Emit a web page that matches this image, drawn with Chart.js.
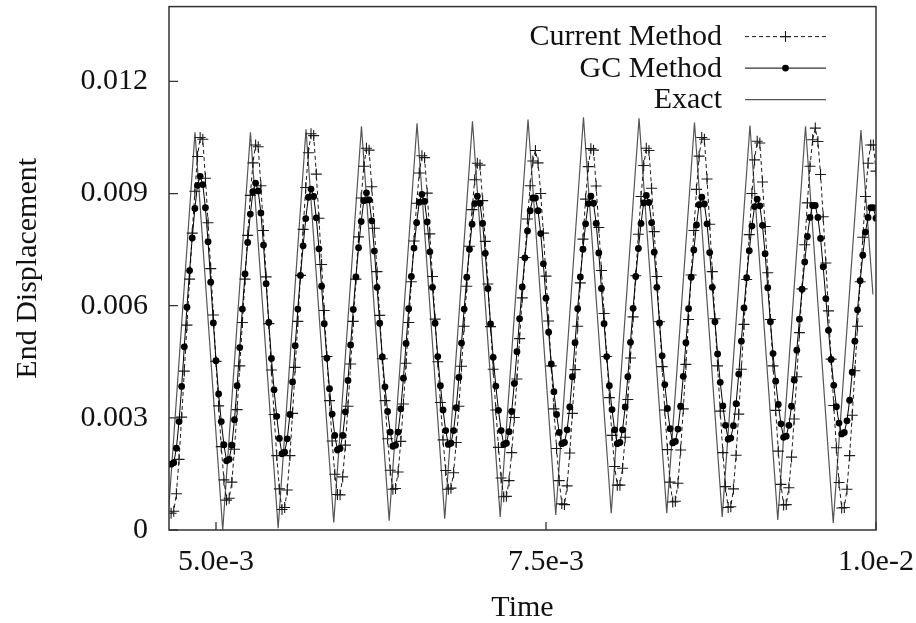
<!DOCTYPE html>
<html>
<head>
<meta charset="utf-8">
<script src="https://cdn.jsdelivr.net/npm/chart.js@4.4.1/dist/chart.umd.min.js"></script>
<style>
  html, body { margin: 0; padding: 0; background: #ffffff; }
  #wrap { width: 916px; height: 623px; }
</style>
</head>
<body>
<div id="wrap"><canvas id="c" width="916" height="623"></canvas></div>
<script>
// ---- Data ----
const TIME_START = 4.66e-3;   // time of first computed sample
const TIME_STEP = 2.0e-5;     // sampling step of the numerical methods

const currentMethod = [
  0.00045, 0.0005, 0.00097, 0.00189, 0.00302, 0.00425, 0.00548, 0.00671, 0.00794, 0.00906, 0.00999, 0.0105, 0.01045, 0.00941, 0.00822, 0.00699, 0.00575, 0.00451, 0.00332, 0.00223, 0.00134,
  0.0008, 0.00085, 0.00128, 0.00216, 0.00322, 0.00439, 0.00555, 0.00671, 0.00788, 0.00895, 0.00982, 0.0103, 0.01025, 0.00921, 0.00801, 0.00677, 0.00552, 0.00428, 0.00309, 0.00199, 0.0011,
  0.00055, 0.0006, 0.00107, 0.00199, 0.00312, 0.00435, 0.00558, 0.00681, 0.00804, 0.00916, 0.01009, 0.0106, 0.01055, 0.00952, 0.00834, 0.0071, 0.00587, 0.00464, 0.00346, 0.00238, 0.00149,
  0.00095, 0.00094, 0.00142, 0.00227, 0.00331, 0.00444, 0.00558, 0.00671, 0.00784, 0.00888, 0.00973, 0.01021, 0.01016, 0.00918, 0.00807, 0.00691, 0.00574, 0.00458, 0.00346, 0.00244, 0.0016,
  0.00109, 0.00111, 0.00155, 0.00237, 0.00337, 0.00446, 0.00555, 0.00664, 0.00773, 0.00874, 0.00955, 0.01001, 0.00996, 0.00901, 0.00792, 0.00678, 0.00564, 0.0045, 0.00341, 0.00241, 0.00159,
  0.00109, 0.00112, 0.00153, 0.00234, 0.00331, 0.00438, 0.00545, 0.00652, 0.00759, 0.00857, 0.00937, 0.00981, 0.00976, 0.00881, 0.00772, 0.00658, 0.00544, 0.0043, 0.00321, 0.00221, 0.00139,
  0.00089, 0.0009, 0.00132, 0.00207, 0.00301, 0.00404, 0.00512, 0.00621, 0.00729, 0.00832, 0.00921, 0.00987, 0.01015, 0.00982, 0.009, 0.00794, 0.00679, 0.00559, 0.00439, 0.00324, 0.00218, 0.00132,
  0.0007, 0.00068, 0.00118, 0.00206, 0.00312, 0.00429, 0.00545, 0.00661, 0.00778, 0.00885, 0.00972, 0.0102, 0.01016, 0.0092, 0.00809, 0.00694, 0.00579, 0.00464, 0.00354, 0.00253, 0.0017,
  0.0012, 0.0012, 0.00165, 0.00248, 0.00349, 0.0046, 0.0057, 0.0068, 0.00791, 0.00892, 0.00975, 0.01021, 0.01015, 0.00914, 0.00798, 0.00678, 0.00557, 0.00437, 0.00321, 0.00215, 0.00128,
  0.00075, 0.00077, 0.00125, 0.00214, 0.00324, 0.00443, 0.00563, 0.00682, 0.00801, 0.00911, 0.01, 0.0105, 0.01045, 0.00939, 0.00818, 0.00691, 0.00565, 0.00439, 0.00318, 0.00207, 0.00116,
  0.0006, 0.00062, 0.0011, 0.002, 0.0031, 0.0043, 0.0055, 0.0067, 0.0079, 0.009, 0.0099, 0.0104, 0.01035, 0.00931, 0.00812, 0.00688, 0.00563, 0.00439, 0.0032, 0.00211, 0.00122,
  0.00067, 0.00068, 0.00113, 0.00195, 0.00297, 0.0041, 0.00528, 0.00645, 0.00763, 0.00875, 0.00973, 0.01044, 0.01075, 0.01039, 0.00951, 0.00838, 0.00714, 0.00586, 0.00457, 0.00333, 0.0022, 0.00127,
  0.00059, 0.0006, 0.00109, 0.00199, 0.00307, 0.00426, 0.00545, 0.00664, 0.00783, 0.00892, 0.00981, 0.0103, 0.0103, 0.0096
];

const gcMethod = [
  0.00176, 0.0018, 0.00219, 0.0029, 0.00384, 0.0049, 0.00596, 0.00694, 0.00781, 0.0086, 0.00922, 0.00946, 0.00924, 0.00862, 0.00771, 0.00663, 0.00554, 0.00453, 0.00364, 0.0029, 0.00228,
  0.00185, 0.00189, 0.00227, 0.00295, 0.00386, 0.00488, 0.00591, 0.00685, 0.00769, 0.00845, 0.00905, 0.00928, 0.00907, 0.00848, 0.00762, 0.00659, 0.00555, 0.00459, 0.00375, 0.00304, 0.00245,
  0.00204, 0.00208, 0.00244, 0.00309, 0.00396, 0.00493, 0.00591, 0.00681, 0.0076, 0.00833, 0.0089, 0.00912, 0.00892, 0.00835, 0.00752, 0.00652, 0.00552, 0.0046, 0.00378, 0.0031, 0.00253,
  0.00214, 0.00218, 0.00253, 0.00316, 0.004, 0.00495, 0.0059, 0.00677, 0.00755, 0.00825, 0.00881, 0.00902, 0.00883, 0.00827, 0.00746, 0.00649, 0.00553, 0.00463, 0.00383, 0.00317, 0.00262,
  0.00224, 0.00227, 0.00262, 0.00324, 0.00406, 0.00499, 0.00592, 0.00678, 0.00754, 0.00822, 0.00877, 0.00898, 0.00879, 0.00824, 0.00744, 0.00649, 0.00553, 0.00464, 0.00386, 0.00321, 0.00266,
  0.00229, 0.00232, 0.00266, 0.00327, 0.00408, 0.005, 0.00591, 0.00676, 0.00751, 0.00818, 0.00873, 0.00893, 0.00874, 0.0082, 0.0074, 0.00646, 0.00551, 0.00462, 0.00385, 0.0032, 0.00266,
  0.00229, 0.00232, 0.00263, 0.00317, 0.00392, 0.00477, 0.00565, 0.0065, 0.00728, 0.008, 0.00854, 0.00888, 0.00888, 0.00854, 0.00793, 0.00712, 0.0062, 0.00529, 0.00444, 0.0037, 0.00309, 0.00261,
  0.00231, 0.00234, 0.00268, 0.00329, 0.0041, 0.00501, 0.00592, 0.00677, 0.00751, 0.00819, 0.00873, 0.00893, 0.00874, 0.0082, 0.00741, 0.00646, 0.00552, 0.00464, 0.00386, 0.00322, 0.00268,
  0.00231, 0.00234, 0.00268, 0.00329, 0.0041, 0.00502, 0.00593, 0.00678, 0.00753, 0.0082, 0.00875, 0.00895, 0.00876, 0.00822, 0.00743, 0.00649, 0.00554, 0.00466, 0.00389, 0.00325, 0.00271,
  0.00233, 0.00237, 0.0027, 0.00331, 0.00411, 0.00501, 0.00592, 0.00676, 0.00749, 0.00816, 0.0087, 0.0089, 0.00872, 0.00819, 0.00742, 0.00649, 0.00557, 0.00471, 0.00395, 0.00332, 0.0028,
  0.00243, 0.00246, 0.00279, 0.00338, 0.00417, 0.00505, 0.00594, 0.00675, 0.00747, 0.00813, 0.00865, 0.00885, 0.00867, 0.00815, 0.00739, 0.00648, 0.00557, 0.00472, 0.00398, 0.00336, 0.00284,
  0.00248, 0.00251, 0.0028, 0.00331, 0.00401, 0.00481, 0.00564, 0.00644, 0.00717, 0.00785, 0.00836, 0.00868, 0.00868, 0.00836, 0.0078, 0.00704, 0.00619, 0.00534, 0.00456, 0.00387, 0.0033, 0.00286,
  0.00257, 0.00261, 0.00292, 0.00347, 0.00422, 0.00505, 0.00589, 0.00667, 0.00735, 0.00797, 0.00836, 0.00862, 0.00862, 0.00834
];

const exactTime = [
  4.631e-3, 4.841e-3, 5.051e-3, 5.261e-3, 5.471e-3, 5.682e-3, 5.892e-3, 6.102e-3, 6.312e-3,
  6.523e-3, 6.733e-3, 6.943e-3, 7.153e-3, 7.364e-3, 7.574e-3, 7.784e-3, 7.994e-3, 8.205e-3,
  8.415e-3, 8.625e-3, 8.835e-3, 9.045e-3, 9.256e-3, 9.466e-3, 9.676e-3, 9.886e-3, 9.977e-3
];
const exactValue = [
  0.0, 0.01064, 0.0, 0.01064, 0.00005, 0.01072, 0.0002, 0.0108, 0.00025,
  0.01088, 0.0003, 0.01093, 0.00035, 0.01098, 0.0004, 0.01104, 0.00045, 0.01101,
  0.00045, 0.0109, 0.00035, 0.01082, 0.00027, 0.0108, 0.00019, 0.0107, 0.0063
];

const X_TICKS = [5.0e-3, 7.5e-3, 1.0e-2];
const X_TICK_LABELS = ['5.0e-3', '7.5e-3', '1.0e-2'];
const Y_TICKS = [0, 0.003, 0.006, 0.009, 0.012];
const Y_TICK_LABELS = ['0', '0.003', '0.006', '0.009', '0.012'];
const LEGEND_ORDER = ['Current Method', 'GC Method', 'Exact'];

// ---- Chart ----
const FONT_FAMILY = '"Liberation Serif", "Times New Roman", serif';
const TEXT_COLOR = '#111111';

const framePlugin = {
  id: 'frame',
  afterDatasetsDraw(chart) {
    const { ctx, chartArea: a, scales } = chart;
    ctx.save();
    ctx.strokeStyle = '#333333';
    ctx.lineWidth = 1.5;
    ctx.strokeRect(a.left, a.top, a.right - a.left, a.bottom - a.top);
    ctx.lineWidth = 1.3;
    ctx.beginPath();
    scales.y.ticks.forEach(t => {
      const py = scales.y.getPixelForValue(t.value);
      ctx.moveTo(a.left, py); ctx.lineTo(a.left + 9, py);
    });
    scales.x.ticks.forEach(t => {
      const px = scales.x.getPixelForValue(t.value);
      ctx.moveTo(px, a.bottom); ctx.lineTo(px, a.bottom - 8);
    });
    ctx.stroke();
    ctx.restore();
  }
};

const legendPlugin = {
  id: 'insideLegend',
  afterDraw(chart) {
    const ctx = chart.ctx;
    const a = chart.chartArea;
    ctx.save();
    ctx.font = '30px ' + FONT_FAMILY;
    ctx.textAlign = 'right';
    ctx.textBaseline = 'middle';
    LEGEND_ORDER.forEach((label, r) => {
      const ds = chart.data.datasets.find(d => d.label === label);
      const y = a.top + 30 + r * 31.5;
      const textRight = a.right - 154;
      const x0 = a.right - 131, x1 = a.right - 50, xm = (x0 + x1) / 2;
      ctx.fillStyle = TEXT_COLOR;
      ctx.fillText(label, textRight, y + 1);
      ctx.strokeStyle = ds.borderColor;
      ctx.lineWidth = ds.borderWidth;
      ctx.setLineDash(ds.borderDash || []);
      ctx.beginPath(); ctx.moveTo(x0, y); ctx.lineTo(x1, y); ctx.stroke();
      ctx.setLineDash([]);
      if (ds.pointStyle === 'cross' && ds.pointRadius > 0) {
        ctx.strokeStyle = ds.pointBorderColor;
        ctx.lineWidth = ds.pointBorderWidth;
        ctx.beginPath();
        ctx.moveTo(xm - ds.pointRadius, y); ctx.lineTo(xm + ds.pointRadius, y);
        ctx.moveTo(xm, y - ds.pointRadius); ctx.lineTo(xm, y + ds.pointRadius);
        ctx.stroke();
      } else if (ds.pointStyle === 'circle' && ds.pointRadius > 0) {
        ctx.fillStyle = ds.pointBackgroundColor;
        ctx.beginPath(); ctx.arc(xm, y, ds.pointRadius, 0, Math.PI * 2); ctx.fill();
      }
    });
    ctx.restore();
  }
};

const sampled = arr => arr.map((v, i) => ({ x: TIME_START + i * TIME_STEP, y: v }));
const exactPoints = exactTime.map((t, i) => ({ x: t, y: exactValue[i] }));

new Chart(document.getElementById('c'), {
  type: 'line',
  data: {
    datasets: [
      {
        label: 'GC Method',
        data: sampled(gcMethod),
        borderColor: '#000000',
        borderWidth: 1,
        pointStyle: 'circle',
        pointRadius: 3.4,
        pointBackgroundColor: '#000000',
        pointBorderColor: '#000000',
        pointBorderWidth: 0,
        tension: 0
      },
      {
        label: 'Current Method',
        data: sampled(currentMethod),
        borderColor: '#1a1a1a',
        borderWidth: 1,
        borderDash: [4, 3],
        pointStyle: 'cross',
        pointRadius: 5.5,
        pointBorderColor: '#1a1a1a',
        pointBorderWidth: 1.1,
        pointBackgroundColor: '#1a1a1a',
        tension: 0
      },
      {
        label: 'Exact',
        data: exactPoints,
        borderColor: '#555555',
        borderWidth: 1.2,
        pointRadius: 0,
        tension: 0
      }
    ]
  },
  options: {
    responsive: false,
    animation: false,
    events: [],
    layout: { padding: { left: 0, right: 40, top: 6, bottom: 0 } },
    plugins: { legend: { display: false }, tooltip: { enabled: false } },
    scales: {
      x: {
        type: 'linear',
        min: 4.644e-3,
        max: 1.0e-2,
        afterBuildTicks: s => { s.ticks = X_TICKS.map(v => ({ value: v })); },
        afterFit: s => { s.height = 93; s.paddingLeft = 0; s.paddingRight = 0; },
        grid: { display: false, drawTicks: false },
        border: { display: false },
        ticks: {
          autoSkip: false, maxRotation: 0, padding: 14,
          color: TEXT_COLOR,
          font: { family: FONT_FAMILY, size: 30 },
          callback: (v, i) => X_TICK_LABELS[i]
        },
        title: {
          display: true, text: 'Time', color: TEXT_COLOR,
          font: { family: FONT_FAMILY, size: 30 },
          padding: { top: 0, bottom: -3 }
        }
      },
      y: {
        type: 'linear',
        min: 0,
        max: 0.014,
        afterBuildTicks: s => { s.ticks = Y_TICKS.map(v => ({ value: v })); },
        afterFit: s => { s.width = 169; s.paddingTop = 0; s.paddingBottom = 0; },
        grid: { display: false, drawTicks: false },
        border: { display: false },
        ticks: {
          autoSkip: false, padding: 21,
          color: TEXT_COLOR,
          font: { family: FONT_FAMILY, size: 30 },
          callback: (v, i) => Y_TICK_LABELS[i]
        },
        title: {
          display: true, text: 'End Displacement', color: TEXT_COLOR,
          font: { family: FONT_FAMILY, size: 30 },
          padding: { top: 10, bottom: 0 }
        }
      }
    }
  },
  plugins: [framePlugin, legendPlugin]
});
</script>
</body>
</html>
